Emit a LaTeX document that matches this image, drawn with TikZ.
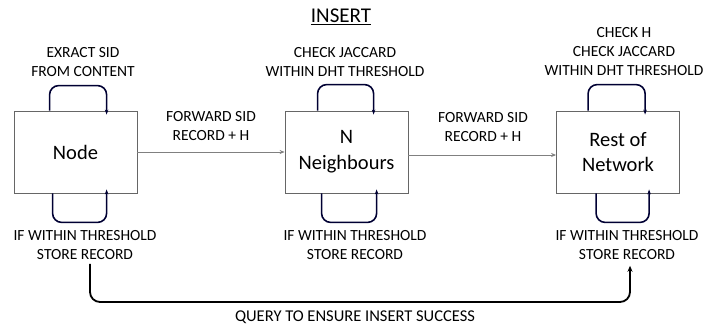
\documentclass[tikz,border=0pt]{standalone}
\usepackage{fontspec}
\setmainfont{Carlito}
\usetikzlibrary{arrows.meta,calc}
\begin{document}
\begin{tikzpicture}[x=1pt,y=-1pt,
  box/.style={draw=black!60,line width=0.8pt,minimum width=123pt,minimum height=82pt,inner sep=0pt,align=center,font=\fontsize{20.5}{24}\selectfont},
  lbl/.style={align=center,inner sep=0pt,font=\fontsize{15.5}{19}\selectfont},
  fwd/.style={draw=black!50,line width=0.7pt,-{Stealth[length=5pt,width=4pt]}},
  loopline/.style={draw=black!80!blue,line width=1.6pt,rounded corners=9pt,-{Stealth[length=5pt,width=3.5pt]}},
  query/.style={draw=black,line width=1.8pt,rounded corners=10pt,-{Stealth[length=6pt,width=5pt]}}]
\useasboundingbox (0,0) rectangle (703,329);

% title
\node[font=\fontsize{21}{24}\selectfont,inner sep=0pt] (title) at (341,17) {\underline{INSERT}};

% the three stages
\node[box] (nd) at (75.5,152) {Node};
\node[box] (nb) at (346.5,152) {N\\[2pt]Neighbours};
\node[box] (rn) at (618,152) {Rest of\\[1pt]Network};

% forwarding between stages
\draw[fwd] (nd.east) -- (nb.west);
\draw[fwd] ([yshift=-3pt]nb.east) -- ([yshift=-3pt]rn.west);
\node[lbl] (f1) at (211,126) {FORWARD SID\\RECORD + H};
\node[lbl] (f2) at (483,127) {FORWARD SID\\RECORD + H};

% self loops above the boxes
\draw[loopline] ([xshift=36pt]nd.north west) -- ++(0,-25) -| ([xshift=93pt,yshift=-4pt]nd.north west);
\draw[loopline] ([xshift=33pt]nb.north west) -- ++(0,-26) -| ([xshift=89pt,yshift=-4pt]nb.north west);
\draw[loopline] ([xshift=32pt]rn.north west) -- ++(0,-26) -| ([xshift=89pt,yshift=-4pt]rn.north west);

\node[lbl] (t1) at (83,62) {EXRACT SID\\FROM CONTENT};
\node[lbl] (t2) at (345,62) {CHECK JACCARD\\WITHIN DHT THRESHOLD};
\node[lbl] (t3) at (624,52) {CHECK H\\CHECK JACCARD\\WITHIN DHT THRESHOLD};

% self loops below the boxes
\draw[loopline] ([xshift=39pt]nd.south west) -- ++(0,29) -| ([xshift=93pt,yshift=4pt]nd.south west);
\draw[loopline] ([xshift=37pt]nb.south west) -- ++(0,29) -| ([xshift=92pt,yshift=4pt]nb.south west);
\draw[loopline] ([xshift=40pt]rn.south west) -- ++(0,29) -| ([xshift=93pt,yshift=4pt]rn.south west);

\node[lbl] (b1) at (85,245) {IF WITHIN THRESHOLD\\STORE RECORD};
\node[lbl] (b2) at (355,245) {IF WITHIN THRESHOLD\\STORE RECORD};
\node[lbl] (b3) at (627,245) {IF WITHIN THRESHOLD\\STORE RECORD};

% confirmation query
\draw[query] ([xshift=5pt,yshift=-4pt]b1.south) -- (90,302) -| ([xshift=3pt,yshift=-6pt]b3.south);
\node[lbl,font=\fontsize{16.5}{19}\selectfont] (q) at (355,317) {QUERY TO ENSURE INSERT SUCCESS};
\end{tikzpicture}
\end{document}
